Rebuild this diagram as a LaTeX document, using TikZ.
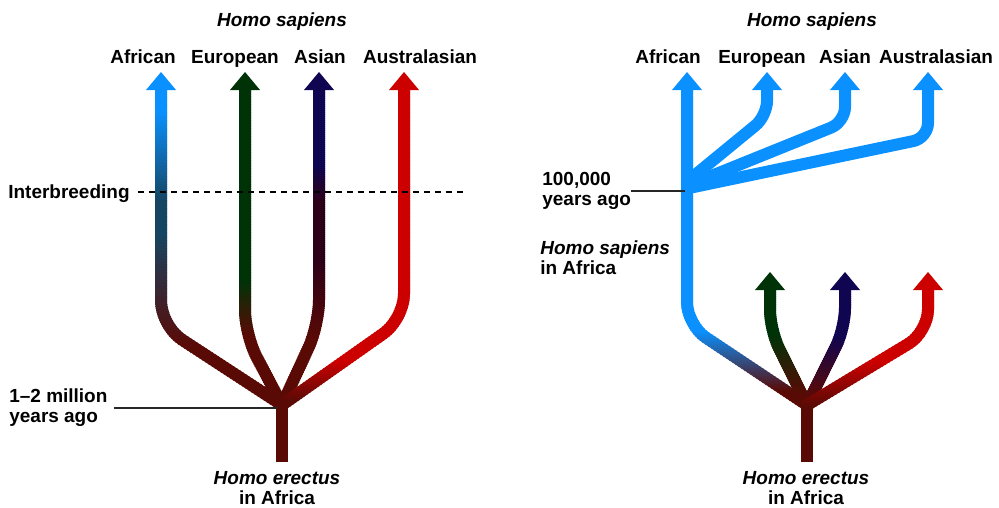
\documentclass[tikz,border=0pt]{standalone}
\usepackage{fontspec}
\setmainfont{Liberation Sans}
\definecolor{blueC}{RGB}{10,145,255}
\definecolor{tealC}{RGB}{20,70,100}
\definecolor{greenC}{RGB}{0,50,8}
\definecolor{navyC}{RGB}{15,5,80}
\definecolor{plumC}{RGB}{45,0,25}
\definecolor{redC}{RGB}{205,0,0}
\definecolor{maroonC}{RGB}{90,10,5}
\tikzset{
  branch/.style={line width=0.24cm, line cap=round, line join=round},
  trunk/.style={line width=0.24cm, line cap=butt, maroonC},
  lbl/.style={font=\fontsize{10.8}{11.5}\selectfont\bfseries, inner sep=0pt},
  ilbl/.style={font=\fontsize{10.8}{11.5}\selectfont\bfseries\itshape, inner sep=0pt},
  leader/.style={line width=0.6pt, black!85},
  interdash/.style={line width=0.8pt, dash pattern=on 0.12cm off 0.1cm},
  headL/.style={},
}
\newcommand{\arrhead}[3]{\fill[#3] (#1-15,#2) -- (#1+15,#2) -- (#1,#2-18) -- cycle;}
\begin{document}
\begin{tikzpicture}[x=0.02cm,y=-0.02cm]
\useasboundingbox (0,0) rectangle (999,507);
% ---------- coordinates: left tree
\coordinate (LAtop) at (161,89);  \coordinate (LAbend) at (161,326);
\coordinate (LEtop) at (245,89);  \coordinate (LEbend) at (245,335);
\coordinate (LStop) at (319,89);  \coordinate (LSbend) at (319,325);
\coordinate (LUtop) at (404,89);  \coordinate (LUbend) at (404,319);
\coordinate (J1) at (282,405);
\coordinate (J1top) at (282,398); \coordinate (J1bot) at (282,462);
\coordinate (J1w) at (278,408);
% ---------- coordinates: right tree
\coordinate (RBtop) at (687,89);  \coordinate (RBbend) at (687,325);
\coordinate (RGtop) at (770,289); \coordinate (RGbend) at (770,330);
\coordinate (RNtop) at (845,289); \coordinate (RNbend) at (845,328);
\coordinate (RRtop) at (928,289); \coordinate (RRbend) at (928,332);
\coordinate (J2) at (807,405);
\coordinate (J2top) at (807,398); \coordinate (J2bot) at (807,462);
\coordinate (FEtop) at (767,89);  \coordinate (FEbend) at (767,116); \coordinate (FJ1) at (689,180);
\coordinate (FStop) at (845,89);  \coordinate (FSbend) at (845,122); \coordinate (FJ2) at (689,185);
\coordinate (FUtop) at (928,89);  \coordinate (FUbend) at (928,138); \coordinate (FJ3) at (689,188);
\coordinate (J3w) at (685,191);
\coordinate (dashend) at (463,192);
% ---------- trunks
\draw[trunk] (J1top) -- (J1bot);
\draw[trunk] (J2top) -- (J2bot);
% ---------- shaded branches (horizontal bands)
\foreach \y in {82,84,...,466}{
  \pgfmathsetmacro\pa{100*min(1,max(0,(200-\y)/90))}
  \pgfmathsetmacro\pb{100*min(1,max(0,(345-\y)/115))}
  \pgfmathsetmacro\pe{100*min(1,max(0,(335-\y)/55))}
  \pgfmathsetmacro\psa{100*min(1,max(0,(200-\y)/35))}
  \pgfmathsetmacro\psb{100*min(1,max(0,(340-\y)/80))}
  \pgfmathsetmacro\pu{100*min(1,max(0,(400-\y)/40))}
  \pgfmathsetmacro\prb{100*min(1,max(0,(390-\y)/60))}
  \pgfmathsetmacro\prg{100*min(1,max(0,(395-\y)/60))}
  \pgfmathsetmacro\prr{100*min(1,max(0,(405-\y)/45))}
  \colorlet{tmpA}{blueC!\pa!tealC}
  \colorlet{cLA}{tmpA!\pb!maroonC}
  \colorlet{cLE}{greenC!\pe!maroonC}
  \colorlet{tmpS}{navyC!\psa!plumC}
  \colorlet{cLS}{tmpS!\psb!maroonC}
  \colorlet{cLU}{redC!\pu!maroonC}
  \colorlet{cRB}{blueC!\prb!maroonC}
  \colorlet{cRG}{greenC!\prg!maroonC}
  \colorlet{cRN}{navyC!\prg!maroonC}
  \colorlet{cRR}{redC!\prr!maroonC}
  \begin{scope}
    \clip (0,\y) rectangle (999,\y+2.6);
    \draw[branch, rounded corners=0.5cm, cLA] (LAtop) -- (LAbend) -- (J1);
    \draw[branch, rounded corners=0.5cm, cLE] (LEtop) -- (LEbend) -- (J1);
    \draw[branch, rounded corners=0.5cm, cLS] (LStop) -- (LSbend) -- (J1);
    \draw[branch, rounded corners=0.5cm, cLU] (LUtop) -- (LUbend) -- (J1);
    \draw[branch, rounded corners=0.45cm, cRB] (RBtop) -- (RBbend) -- (J2);
    \draw[branch, rounded corners=0.4cm, cRG] (RGtop) -- (RGbend) -- (J2);
    \draw[branch, rounded corners=0.4cm, cRN] (RNtop) -- (RNbend) -- (J2);
    \draw[branch, rounded corners=0.45cm, cRR] (RRtop) -- (RRbend) -- (J2);
  \end{scope}
}
% ---------- blue fan (right, upper)
\draw[branch, rounded corners=0.3cm, blueC] (FEtop) -- (FEbend) -- (FJ1);
\draw[branch, rounded corners=0.3cm, blueC] (FStop) -- (FSbend) -- (FJ2);
\draw[branch, rounded corners=0.3cm, blueC] (FUtop) -- (FUbend) -- (FJ3);
% ---------- arrow heads
\arrhead{161}{90}{blueC}
\arrhead{245}{90}{greenC}
\arrhead{319}{90}{navyC}
\arrhead{404}{90}{redC}
\arrhead{687}{90}{blueC}
\arrhead{767}{90}{blueC}
\arrhead{845}{90}{blueC}
\arrhead{928}{90}{blueC}
\arrhead{770}{290}{greenC}
\arrhead{845}{290}{navyC}
\arrhead{928}{290}{redC}
% ---------- labels left
\node[ilbl, anchor=base] (hsL) at (282,27) {Homo sapiens};
\node[lbl, anchor=base] (afL) at (143,63) {African};
\node[lbl, anchor=base] (euL) at (235,63) {European};
\node[lbl, anchor=base] (asL) at (320,63) {Asian};
\node[lbl, anchor=base] (auL) at (420,63) {Australasian};
\node[lbl, anchor=base west] (inter) at (8,198) {Interbreeding};
\draw[interdash] ([xshift=0.16cm]inter.east |- dashend) -- (dashend);
\node[lbl, anchor=west, align=left] (mya) at (9,408) {1--2 million\\years ago};
\draw[leader] ([xshift=0.12cm]mya.east) -- (J1w);
\node[lbl, align=center] (heL) at (277,488) {\itshape Homo erectus\\in Africa};
% ---------- labels right
\node[ilbl, anchor=base] (hsR) at (812,27) {Homo sapiens};
\node[lbl, anchor=base] (afR) at (668,63) {African};
\node[lbl, anchor=base] (euR) at (762,63) {European};
\node[lbl, anchor=base] (asR) at (845,63) {Asian};
\node[lbl, anchor=base] (auR) at (936,63) {Australasian};
\node[lbl, anchor=west, align=left] (ka) at (542,191) {100,000\\years ago};
\draw[leader] (ka.east) -- (J3w);
\node[lbl, anchor=west, align=left] (hsa) at (540,258) {\itshape Homo sapiens\\in Africa};
\node[lbl, align=center] (heR) at (806,488) {\itshape Homo erectus\\in Africa};
\end{tikzpicture}
\end{document}
